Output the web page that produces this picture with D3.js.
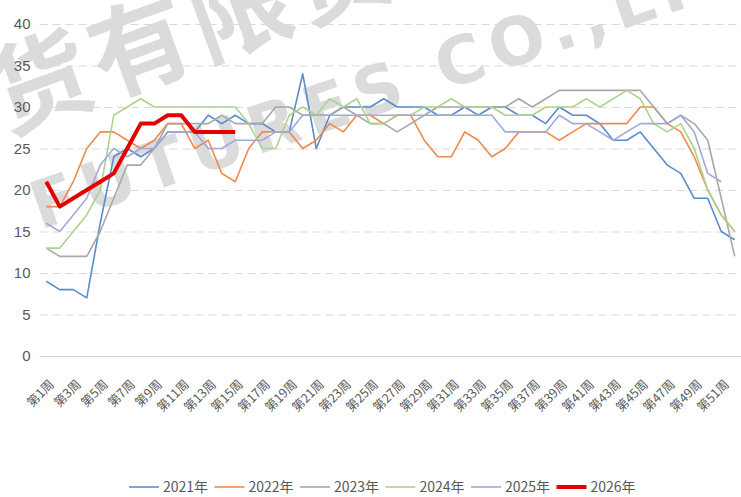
<!DOCTYPE html>
<html>
<head>
<meta charset="utf-8">
<script src="https://cdn.jsdelivr.net/npm/d3@7"></script>
<style>
  body { margin: 0; background: #fff; }
  svg { display: block; }
  .axis text { fill: #595959; }
</style>
</head>
<body>
<svg class="chart"></svg>
<script>
var width = 741;
var height = 497;

// categories
var weeks = d3.range(1, 53).map(function(i) { return "第" + i + "周"; });
var years = ["2021年", "2022年", "2023年", "2024年", "2025年", "2026年"];
var yTicks = [0, 5, 10, 15, 20, 25, 30, 35, 40];

// series values
var v2021 = [9, 8, 8, 7, 16, 24, 25, 24, 25, 27, 27, 27, 29, 28, 29, 28, 28, 27, 27, 34,
  25, 29, 30, 30, 30, 31, 30, 30, 30, 29, 29, 30, 29, 30, 30, 29, 29, 28, 30, 29,
  29, 28, 26, 26, 27, 25, 23, 22, 19, 19, 15, 14];
var v2022 = [18, 18, 21, 25, 27, 27, 26, 25, 26, 28, 28, 25, 26, 22, 21, 25, 27, 27, 27, 25,
  26, 28, 27, 29, 29, 28, 29, 29, 26, 24, 24, 27, 26, 24, 25, 27, 27, 27, 26, 27,
  28, 28, 28, 28, 30, 30, 28, 27, 24, 20, 17, 15];
var v2023 = [13, 12, 12, 12, 15, 19, 23, 23, 25, 28, 28, 28, 28, 29, 28, 28, 28, 30, 30, 29,
  29, 29, 30, 29, 28, 28, 27, 28, 29, 30, 30, 30, 30, 30, 30, 31, 30, 31, 32, 32,
  32, 32, 32, 32, 32, 30, 28, 29, 28, 26, 19, 12];
var v2024 = [13, 13, 15, 17, 20, 29, 30, 31, 30, 30, 30, 30, 30, 30, 30, 28, 25, 25, 29, 30,
  29, 31, 30, 31, 28, 28, 29, 29, 30, 30, 31, 30, 30, 30, 29, 29, 29, 30, 30, 30,
  31, 30, 31, 32, 31, 28, 27, 28, 25, 20, 17, 15];
var v2025 = [16, 15, 17, 19, 23, 25, 24, 25, 25, 27, 27, 27, 25, 25, 26, 26, 26, 27, 27, 29,
  29, 29, 29, 29, 29, 29, 29, 29, 29, 29, 29, 29, 29, 29, 27, 27, 27, 27, 29, 28,
  28, 27, 26, 27, 28, 28, 28, 29, 27, 22, 21];
var v2026 = [21, 18, 19, 20, 21, 22, 25, 28, 28, 29, 29, 27, 27, 27, 27];

var colors = ["#5b8cc9", "#ed8a4c", "#a8a8a8", "#add391", "#a2a9d8", "#e50000"];
var widths = [1.6, 1.6, 1.6, 1.6, 1.6, 4];

var series = [v2021, v2022, v2023, v2024, v2025, v2026].map(function(vals, i) {
  return { name: years[i], color: colors[i], width: widths[i], values: vals };
});

var svg = d3.select(".chart")
  .attr("width", width)
  .attr("height", height);

var x = d3.scalePoint()
  .domain(weeks)
  .range([39.5, 741.5])
  .padding(0.5);

var y = d3.scaleLinear()
  .domain([0, 40])
  .range([356, 24]);

// watermark
var wm = svg.append("g")
  .attr("fill", "#c4c4c4")
  .attr("opacity", 0.6)
  .attr("font-family", "'Noto Sans CJK SC', sans-serif")
  .attr("font-weight", "bold");

wm.append("text")
  .attr("transform", "translate(6,134) rotate(-20)")
  .attr("font-size", 100)
  .attr("letter-spacing", 6)
  .text("货有限责任公司");

wm.append("text")
  .attr("transform", "translate(40,230) rotate(-19)")
  .attr("font-size", 66)
  .attr("font-family", "'DejaVu Sans', sans-serif")
  .attr("textLength", 760)
  .attr("lengthAdjust", "spacing")
  .text("FUTURES CO.,LTD");

// gridlines
var grid = svg.append("g")
  .attr("class", "grid")
  .attr("transform", "translate(39.5,0)")
  .call(d3.axisLeft(y).tickValues(yTicks).tickSize(-(741 - 39.5)).tickFormat(""));
grid.select(".domain").remove();
grid.selectAll(".tick line")
  .attr("stroke-dasharray", function(d) { return d === 0 ? null : "8,5"; })
  .attr("stroke", function(d) { return d === 0 ? "#d0d0d0" : "#d9d9d9"; });

// y axis labels
var yAxis = svg.append("g")
  .attr("class", "axis")
  .attr("transform", "translate(39.5,0)")
  .call(d3.axisLeft(y).tickValues(yTicks).tickSize(0).tickPadding(9));
yAxis.select(".domain").remove();
yAxis.selectAll("text")
  .attr("font-family", "'Liberation Sans Narrow', 'Liberation Sans', sans-serif")
  .attr("font-size", 15);

// x axis labels
var xAxis = svg.append("g")
  .attr("class", "axis")
  .attr("transform", "translate(0,356)")
  .call(d3.axisBottom(x)
    .tickValues(weeks.filter(function(d, i) { return i % 2 === 0; }))
    .tickSize(0));
xAxis.select(".domain").remove();
xAxis.selectAll("text")
  .attr("font-family", "'Noto Sans CJK SC', sans-serif")
  .attr("font-size", 12.5)
  .attr("text-anchor", "end")
  .attr("dy", "0.35em")
  .attr("transform", "translate(5,26) rotate(-45)")
  .attr("y", 0)
  .attr("x", 0);

// lines
var line = d3.line()
  .x(function(d, i) { return x(weeks[i]); })
  .y(function(d) { return y(d); });

svg.append("g")
  .attr("class", "lines")
  .selectAll("path")
  .data(series)
  .enter()
  .append("path")
    .attr("fill", "none")
    .attr("stroke", function(d) { return d.color; })
    .attr("stroke-width", function(d) { return d.width; })
    .attr("stroke-linejoin", "round")
    .attr("d", function(d) { return line(d.values); });

// legend
var legend = svg.append("g")
  .attr("class", "legend")
  .selectAll("g")
  .data(series)
  .enter()
  .append("g")
    .attr("transform", function(d, i) { return "translate(" + (129 + i * 85.5) + ",487)"; });

legend.append("line")
  .attr("x1", 0)
  .attr("x2", 30)
  .attr("stroke", function(d) { return d.color; })
  .attr("stroke-width", function(d) { return d.width; });

legend.append("text")
  .attr("x", 34)
  .attr("dy", "0.35em")
  .attr("fill", "#595959")
  .attr("font-family", "'Liberation Sans Narrow', 'Noto Sans CJK SC', sans-serif")
  .attr("font-size", 14)
  .text(function(d) { return d.name; });
</script>
</body>
</html>
